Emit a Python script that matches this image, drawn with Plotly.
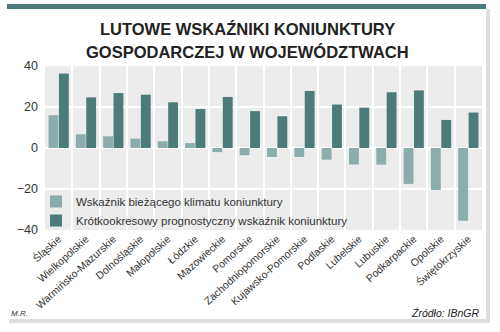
import plotly.graph_objects as go

regions = ["Śląskie", "Wielkopolskie", "Warmińsko-Mazurskie", "Dolnośląskie",
           "Małopolskie", "Łódzkie", "Mazowieckie", "Pomorskie",
           "Zachodniopomorskie", "Kujawsko-Pomorskie", "Podlaskie", "Lubelskie",
           "Lubuskie", "Podkarpackie", "Opolskie", "Świętokrzyskie"]
current_climate = [16, 6.7, 5.7, 4.6, 3.3, 2.4, -2, -3.5,
                   -4.4, -4.4, -5.7, -8, -8.1, -17.5, -20.5, -35.5]
short_term_forecast = [36.3, 24.7, 26.8, 26, 22.3, 19, 24.9, 18,
                       15.5, 27.8, 21.2, 19.7, 27.2, 28.1, 13.7, 17.3]
y_ticks = [-40, -20, 0, 20, 40]
series_names = ["Wskaźnik bieżącego klimatu koniunktury",
                "Krótkookresowy prognostyczny wskaźnik koniunktury"]
title_lines = ["LUTOWE WSKAŹNIKI KONIUNKTURY", "GOSPODARCZEJ W WOJEWÓDZTWACH"]

W, H = 500, 332
L, R, T, B = 45, 18, 66, 102
PW, PH = W - L - R, H - T - B


def fx(px):
    return (px - L) / PW


def fy(py):
    return (H - B - py) / PH


LIGHT = "#8badab"
DARK = "#4b7c79"
FONT = "Liberation Sans, Arial, sans-serif"

fig = go.Figure()
fig.add_trace(go.Bar(x=regions, y=current_climate, name=series_names[0],
                     marker=dict(color=LIGHT, line=dict(width=0))))
fig.add_trace(go.Bar(x=regions, y=short_term_forecast, name=series_names[1],
                     marker=dict(color=DARK, line=dict(width=0))))

fig.update_layout(
    width=W, height=H,
    margin=dict(l=L, r=R, t=T, b=B, pad=0),
    paper_bgcolor="white",
    plot_bgcolor="#ececec",
    barmode="group", bargap=0.24, bargroupgap=0.05,
    font=dict(family=FONT, color="#333"),
    showlegend=True,
    legend=dict(x=fx(36), y=fy(187), xanchor="left", yanchor="top",
                bgcolor="rgba(0,0,0,0)", font=dict(size=11.5, color="#333"),
                tracegroupgap=0, itemsizing="constant"),
    xaxis=dict(type="category", tickson="boundaries", showgrid=True,
               gridcolor="white", gridwidth=1.5, ticks="", tickangle=-42,
               tickfont=dict(size=10.5, color="#333"), showline=False,
               zeroline=False),
    yaxis=dict(range=[-40, 40], tickvals=y_ticks, showgrid=True,
               gridcolor="white", gridwidth=1.5, zeroline=True,
               zerolinecolor="white", zerolinewidth=1.5, ticks="",
               ticklabelstandoff=6,
               tickfont=dict(size=12.5, color="#333"), showline=False),
)

shapes = [
    # top bar
    dict(type="rect", xref="paper", yref="paper", x0=fx(7), x1=fx(486),
         y0=fy(9), y1=fy(4), fillcolor="#4b7b78", line=dict(width=0)),
    # card right shadow
    dict(type="rect", xref="paper", yref="paper", x0=fx(486), x1=fx(490),
         y0=fy(323), y1=fy(9), fillcolor="#dedede", line=dict(width=0)),
    # card bottom shadow
    dict(type="rect", xref="paper", yref="paper", x0=fx(9), x1=fx(490),
         y0=fy(323), y1=fy(319), fillcolor="#dedede", line=dict(width=0)),
]
fig.update_layout(shapes=shapes)

for line, cy in zip(title_lines, [29.0, 52.3]):
    fig.add_annotation(
        text="<b>" + line + "</b>",
        xref="paper", yref="paper", x=fx(247), y=fy(cy), xanchor="center",
        yanchor="middle", showarrow=False, align="center",
        font=dict(family=FONT, size=16.5, color="#222"))
fig.add_annotation(text="<i>M.R.</i>", xref="paper", yref="paper",
                   x=fx(9), y=fy(313), xanchor="left", yanchor="middle",
                   showarrow=False, font=dict(size=8, color="#333"))
fig.add_annotation(text="<i>Źródło: IBnGR</i>", xref="paper", yref="paper",
                   x=fx(482), y=fy(313), xanchor="right", yanchor="middle",
                   showarrow=False, font=dict(size=10.5, color="#222"))

fig.write_html("out.html")
